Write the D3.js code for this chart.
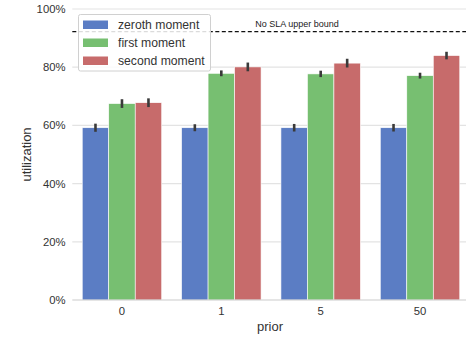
<!DOCTYPE html>
<html><head><meta charset="utf-8">
<script src="https://cdn.jsdelivr.net/npm/d3@7"></script>
<style>
body{margin:0;background:#fff;}
text{font-family:"Liberation Sans",Arial,sans-serif;}
</style></head>
<body><svg id="c" width="466" height="337"></svg>
<script>
const categories = ["0","1","5","50"];
const seriesNames = ["zeroth moment","first moment","second moment"];
const zeroth = [59.2, 59.2, 59.2, 59.2];
const first = [67.5, 77.9, 77.7, 77.1];
const second = [67.8, 80.1, 81.4, 84.0];
const zerothErr = [1.4, 1.2, 1.3, 1.3];
const firstErr = [1.5, 1.0, 1.1, 1.0];
const secondErr = [1.5, 1.5, 1.5, 1.3];
const yTicks = [0, 20, 40, 60, 80, 100];
const slaLevel = 92.2;
const slaLabel = "No SLA upper bound";
const colors = ["#5b7dc4", "#77bf71", "#c76b6b"];

(function(){
const values = [zeroth, first, second];
const errs = [zerothErr, firstErr, secondErr];

const svg = d3.select("#c");
const mLeft = 72.3, mRight = 469.7, mTop = 9, mBottom = 300;
const x = d3.scaleBand().domain(categories).range([mLeft, mRight]).paddingInner(0.2).paddingOuter(0.1);
const x1 = d3.scaleBand().domain(seriesNames).range([0, x.bandwidth()]);
const y = d3.scaleLinear().domain([0, 100]).range([mBottom, mTop]);

// grid
svg.append("g").selectAll("line").data(yTicks.filter(d=>d>0)).join("line")
  .attr("x1", mLeft).attr("x2", 466).attr("y1", d=>y(d)).attr("y2", d=>y(d))
  .attr("stroke", "#e3e3e3").attr("stroke-width", 1.2);

// y tick labels
svg.append("g").selectAll("text").data(yTicks).join("text")
  .attr("x", 65.5).attr("y", d=>y(d)).attr("dy", "0.36em").attr("text-anchor", "end")
  .attr("font-size", 11.3).attr("fill", "#333").text(d=>d+"%");

// dashed line
svg.append("line").attr("x1", mLeft).attr("x2", 466).attr("y1", y(slaLevel)).attr("y2", y(slaLevel))
  .attr("stroke", "#111").attr("stroke-width", 1.3).attr("stroke-dasharray", "4,2.5");
svg.append("text").attr("x", 297).attr("y", y(slaLevel)-4.5).attr("text-anchor", "middle")
  .attr("font-size", 9).attr("fill", "#222").text(slaLabel);

// bars
seriesNames.forEach((s, si) => {
  const g = svg.append("g");
  g.selectAll("rect").data(categories).join("rect")
    .attr("x", (c)=>x(c)+x1(s)).attr("width", x1.bandwidth())
    .attr("y", (c,i)=>y(values[si][i])).attr("height", (c,i)=>y(0)-y(values[si][i]))
    .attr("fill", colors[si]).attr("stroke", "#fff").attr("stroke-width", 0.6);
  g.selectAll("line").data(categories).join("line")
    .attr("x1", c=>x(c)+x1(s)+x1.bandwidth()/2).attr("x2", c=>x(c)+x1(s)+x1.bandwidth()/2)
    .attr("y1", (c,i)=>y(values[si][i]+errs[si][i])).attr("y2", (c,i)=>y(values[si][i]-errs[si][i]))
    .attr("stroke", "#3a3a3a").attr("stroke-width", 2.6);
});

// bottom axis line
svg.append("line").attr("x1", mLeft).attr("x2", 466).attr("y1", mBottom).attr("y2", mBottom)
  .attr("stroke", "#cccccc").attr("stroke-width", 1.2);

// x tick labels
svg.append("g").selectAll("text").data(categories).join("text")
  .attr("x", c=>x(c)+x.bandwidth()/2).attr("y", 315).attr("text-anchor", "middle")
  .attr("font-size", 11.3).attr("fill", "#333").text(c=>c);

// axis labels
svg.append("text").attr("x", 270).attr("y", 331).attr("text-anchor", "middle")
  .attr("font-size", 13).attr("fill", "#333").text("prior");
svg.append("text").attr("transform", `translate(31,${(mTop+mBottom)/2}) rotate(-90)`)
  .attr("text-anchor", "middle").attr("font-size", 13).attr("fill", "#333").text("utilization");

// legend
const lg = svg.append("g");
lg.append("rect").attr("x", 78.5).attr("y", 14.5).attr("width", 132).attr("height", 56.5)
  .attr("rx", 2).attr("fill", "#fff").attr("fill-opacity", 0.85).attr("stroke", "#d0d0d0");
seriesNames.forEach((s, i) => {
  const yy = 24.5 + i*18;
  lg.append("rect").attr("x", 83).attr("y", yy-4).attr("width", 25).attr("height", 8.5).attr("fill", colors[i]);
  lg.append("text").attr("x", 118).attr("y", yy).attr("dy", "0.36em").attr("font-size", 12.2)
    .attr("fill", "#333").text(s);
});
})();
</script></body></html>
